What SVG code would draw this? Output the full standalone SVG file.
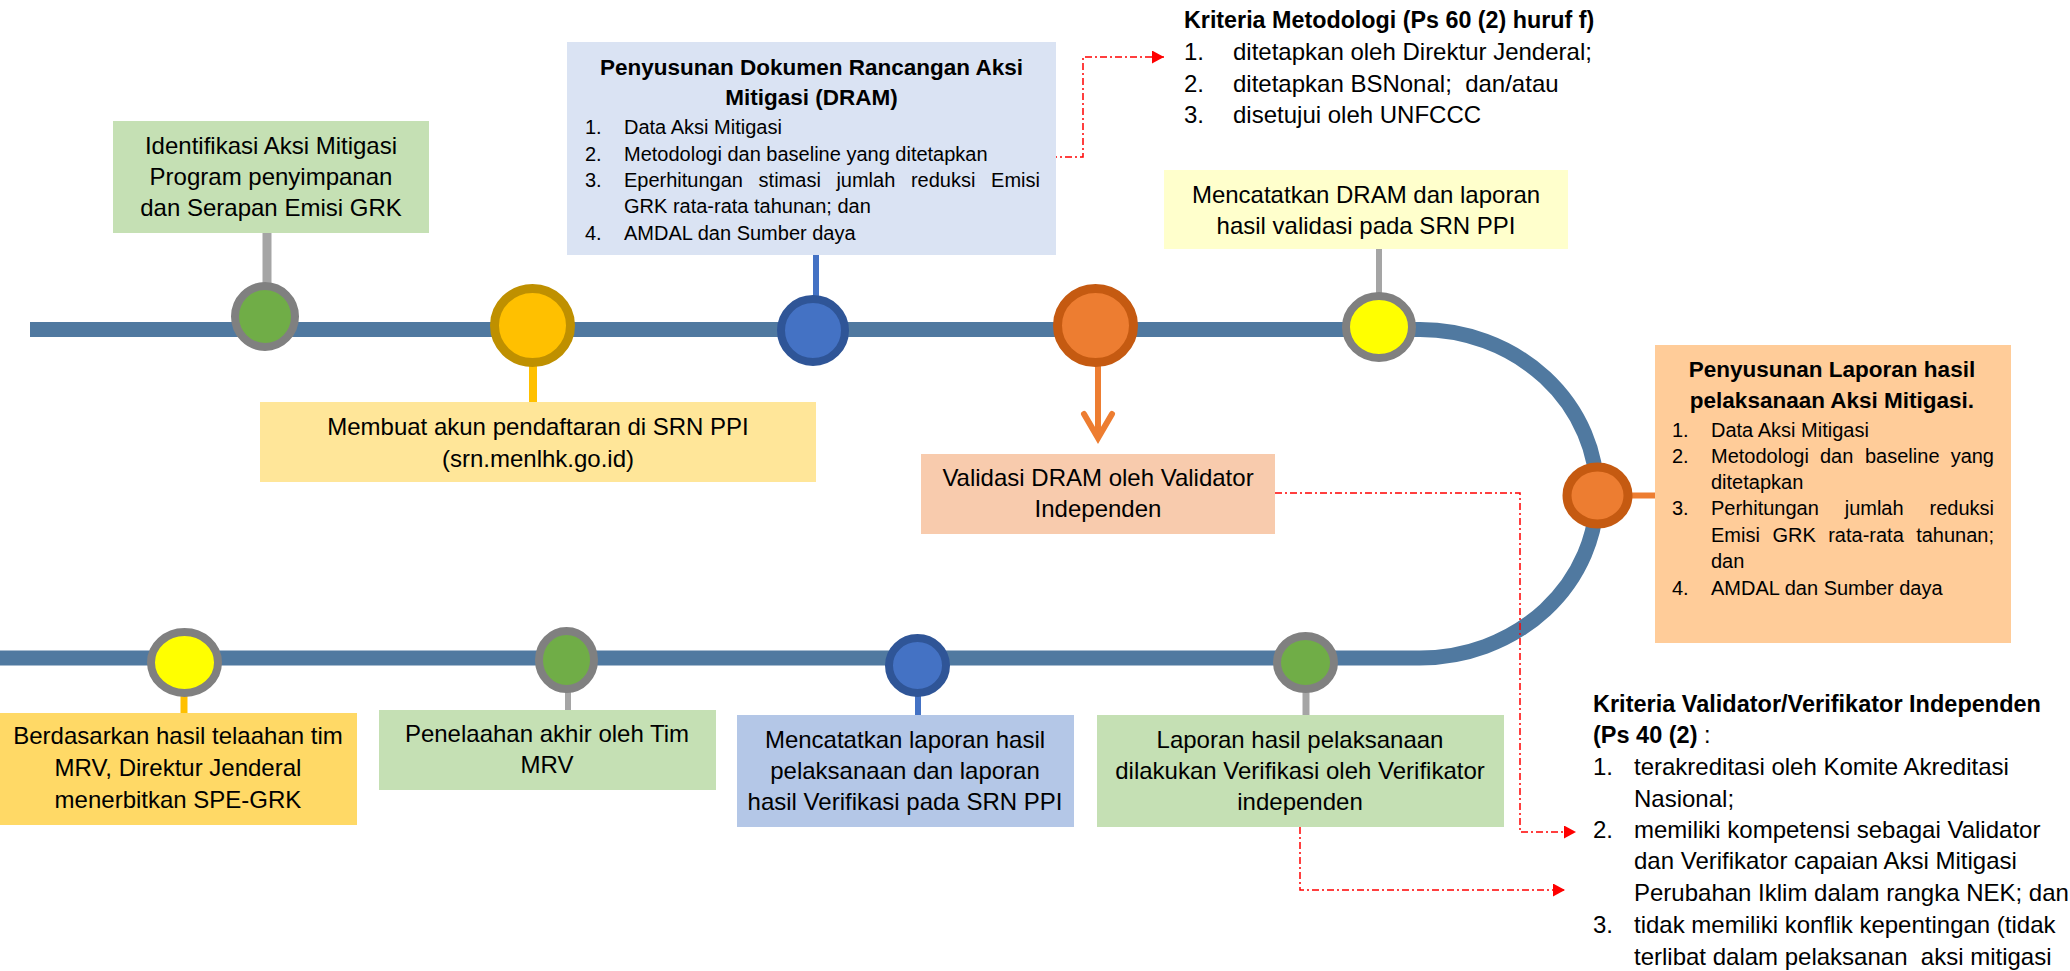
<svg xmlns="http://www.w3.org/2000/svg" width="2070" height="971" viewBox="0 0 2070 971">
<defs>
<style>
text{font-family:"Liberation Sans",Arial,sans-serif;fill:#000}
.t24{font-size:24px}
.t20{font-size:20px}
.c{text-anchor:middle}
.e{text-anchor:end}
.b{font-weight:bold}
.pre{white-space:pre}
.track{fill:none;stroke:#5079A0;stroke-width:15}
.red{fill:none;stroke:#FF0000;stroke-width:1.5;stroke-dasharray:7 3 2 3}
.gray{stroke:#808080;stroke-width:8}
.grn{fill:#70AD47}
.yel{fill:#FFFF00}
.blu{fill:#4472C4;stroke:#2F5597;stroke-width:8}
.org{fill:#ED7D31;stroke:#C55A11;stroke-width:9}
.gold{fill:#FFC000;stroke:#BF9000;stroke-width:9}
</style>
<marker id="ar" markerUnits="userSpaceOnUse" markerWidth="12" markerHeight="13" refX="12" refY="6.5" orient="auto">
<path d="M0,0 L12,6.5 L0,13 z" fill="#FF0000"/>
</marker>
</defs>
<rect width="2070" height="971" fill="#FFFFFF"/>

<g id="connectors">
<path class="track" d="M30 329.5 H1420 A177 164.25 0 0 1 1420 658 H0"/>
<line x1="267" y1="233" x2="267" y2="284" stroke="#A5A5A5" stroke-width="9"/>
<line x1="533" y1="365" x2="533" y2="402" stroke="#FFC000" stroke-width="8"/>
<line x1="816" y1="255" x2="816" y2="297" stroke="#4472C4" stroke-width="6"/>
<line x1="1098" y1="365" x2="1098" y2="438" stroke="#ED7D31" stroke-width="6"/>
<path d="M1084 414 L1098 438 L1112 414" fill="none" stroke="#ED7D31" stroke-width="6" stroke-linecap="round" stroke-linejoin="miter"/>
<line x1="1379" y1="249" x2="1379" y2="294" stroke="#A5A5A5" stroke-width="6"/>
<line x1="1630" y1="495.5" x2="1655" y2="495.5" stroke="#ED7D31" stroke-width="6"/>
<line x1="184" y1="695" x2="184" y2="713" stroke="#FFC000" stroke-width="7"/>
<line x1="568" y1="691" x2="568" y2="710" stroke="#A5A5A5" stroke-width="6"/>
<line x1="918" y1="695" x2="918" y2="715" stroke="#4472C4" stroke-width="6"/>
<line x1="1306" y1="691" x2="1306" y2="715" stroke="#A5A5A5" stroke-width="7"/>
<path class="red" d="M1005 157 H1083 V57 H1164" marker-end="url(#ar)"/>
<path class="red" d="M1275 493 H1520 V832 H1576" marker-end="url(#ar)"/>
<path class="red" d="M1300 827 V890 H1565" marker-end="url(#ar)"/>
</g>

<g id="node-identifikasi">
<rect x="113" y="121" width="316" height="112" fill="#C5E0B4"/>
<text class="t24 c" x="271" y="154">Identifikasi Aksi Mitigasi</text>
<text class="t24 c" x="271" y="185">Program penyimpanan</text>
<text class="t24 c" x="271" y="216">dan Serapan Emisi GRK</text>
</g>
<g id="dot-1"><ellipse class="grn gray" cx="265" cy="316.5" rx="30" ry="30.5"/></g>

<g id="dot-2"><ellipse class="gold" cx="532.5" cy="325.5" rx="38" ry="37"/></g>
<g id="node-akun">
<rect x="260" y="402" width="556" height="80" fill="#FFE699"/>
<text class="t24 c" x="538" y="435">Membuat akun pendaftaran di SRN PPI</text>
<text class="t24 c" x="538" y="467">(srn.menlhk.go.id)</text>
</g>

<g id="node-dram">
<rect x="567" y="42" width="489" height="213" fill="#DAE3F3"/>
<text class="b c" font-size="22.5" x="811.5" y="75">Penyusunan Dokumen Rancangan Aksi</text>
<text class="b c" font-size="22.5" x="811.5" y="105">Mitigasi (DRAM)</text>
<text class="t20" x="585" y="134">1.</text><text class="t20" x="624" y="134">Data Aksi Mitigasi</text>
<text class="t20" x="585" y="161">2.</text><text class="t20" x="624" y="161">Metodologi dan baseline yang ditetapkan</text>
<text class="t20" x="585" y="187">3.</text><text class="t20" x="624" y="187">Eperhitungan</text><text class="t20" x="758.6" y="187">stimasi</text><text class="t20" x="836.4" y="187">jumlah</text><text class="t20" x="910.9" y="187">reduksi</text><text class="t20 e" x="1040" y="187">Emisi</text>
<text class="t20" x="624" y="213">GRK rata-rata tahunan; dan</text>
<text class="t20" x="585" y="240">4.</text><text class="t20" x="624" y="240">AMDAL dan Sumber daya</text>
</g>
<g id="dot-3"><ellipse class="blu" cx="813" cy="330.5" rx="32" ry="31.5"/></g>

<g id="dot-4"><ellipse class="org" cx="1095.5" cy="325.5" rx="38" ry="37"/></g>
<g id="node-validasi">
<rect x="921" y="454" width="354" height="80" fill="#F8CBAD"/>
<text class="t24 c" x="1098" y="486">Validasi DRAM oleh Validator</text>
<text class="t24 c" x="1098" y="517">Independen</text>
</g>

<g id="node-kriteria-metodologi">
<text class="b" font-size="23.3" x="1184" y="28">Kriteria Metodologi (Ps 60 (2) huruf f)</text>
<text class="t24" x="1184" y="60">1.</text><text class="t24" x="1233" y="60">ditetapkan oleh Direktur Jenderal;</text>
<text class="t24" x="1184" y="92">2.</text><text class="t24 pre" x="1233" y="92" xml:space="preserve">ditetapkan BSNonal;  dan/atau</text>
<text class="t24" x="1184" y="123">3.</text><text class="t24" x="1233" y="123">disetujui oleh UNFCCC</text>
</g>

<g id="node-mencatat-dram">
<rect x="1164" y="170" width="404" height="79" fill="#FFFFCC"/>
<text class="t24 c" x="1366" y="203">Mencatatkan DRAM dan laporan</text>
<text class="t24 c" x="1366" y="234">hasil validasi pada SRN PPI</text>
</g>
<g id="dot-5"><ellipse class="yel gray" cx="1379" cy="327" rx="33" ry="31"/></g>

<g id="dot-6"><ellipse class="org" stroke-width="8" cx="1597.5" cy="495.5" rx="30.5" ry="28.5"/></g>
<g id="node-laporan-aksi">
<rect x="1655" y="345" width="356" height="298" fill="#FFCC99"/>
<text class="b c" font-size="22.5" x="1832" y="377">Penyusunan Laporan hasil</text>
<text class="b c" font-size="22.5" x="1832" y="408">pelaksanaan Aksi Mitigasi.</text>
<text class="t20" x="1672" y="437">1.</text><text class="t20" x="1711" y="437">Data Aksi Mitigasi</text>
<text class="t20" x="1672" y="463">2.</text><text class="t20" x="1711" y="463">Metodologi</text><text class="t20" x="1820" y="463">dan</text><text class="t20" x="1865" y="463">baseline</text><text class="t20 e" x="1994" y="463">yang</text>
<text class="t20" x="1711" y="489">ditetapkan</text>
<text class="t20" x="1672" y="515">3.</text><text class="t20" x="1711" y="515">Perhitungan</text><text class="t20" x="1844.7" y="515">jumlah</text><text class="t20 e" x="1994" y="515">reduksi</text>
<text class="t20" x="1711" y="542">Emisi</text><text class="t20" x="1772.4" y="542">GRK</text><text class="t20" x="1828.2" y="542">rata-rata</text><text class="t20 e" x="1994" y="542">tahunan;</text>
<text class="t20" x="1711" y="568">dan</text>
<text class="t20" x="1672" y="595">4.</text><text class="t20" x="1711" y="595">AMDAL dan Sumber daya</text>
</g>

<g id="dot-7"><ellipse class="grn gray" cx="1305.5" cy="662.5" rx="28.5" ry="26.5"/></g>
<g id="node-verifikasi">
<rect x="1097" y="715" width="407" height="112" fill="#C5E0B4"/>
<text class="t24 c" x="1300" y="748">Laporan hasil pelaksanaan</text>
<text class="t24 c" x="1300" y="779">dilakukan Verifikasi oleh Verifikator</text>
<text class="t24 c" x="1300" y="810">independen</text>
</g>

<g id="dot-8"><ellipse class="blu" cx="917.5" cy="665.5" rx="28.5" ry="27.5"/></g>
<g id="node-mencatat-laporan">
<rect x="737" y="715" width="337" height="112" fill="#B4C7E7"/>
<text class="t24 c" x="905" y="748">Mencatatkan laporan hasil</text>
<text class="t24 c" x="905" y="779">pelaksanaan dan laporan</text>
<text class="t24 c" x="905" y="810">hasil Verifikasi pada SRN PPI</text>
</g>

<g id="dot-9"><ellipse class="grn gray" cx="566.5" cy="660" rx="27.5" ry="29"/></g>
<g id="node-penelaahan">
<rect x="379" y="710" width="337" height="80" fill="#C5E0B4"/>
<text class="t24 c" x="547" y="742">Penelaahan akhir oleh Tim</text>
<text class="t24 c" x="547" y="773">MRV</text>
</g>

<g id="dot-10"><ellipse class="yel gray" cx="184.5" cy="662.5" rx="33.5" ry="30.5"/></g>
<g id="node-spe-grk">
<rect x="0" y="713" width="357" height="112" fill="#FFD966"/>
<text class="t24 c" x="178" y="744">Berdasarkan hasil telaahan tim</text>
<text class="t24 c" x="178" y="776">MRV, Direktur Jenderal</text>
<text class="t24 c" x="178" y="808">menerbitkan SPE-GRK</text>
</g>

<g id="node-kriteria-validator">
<text class="b" font-size="23.5" x="1593" y="712">Kriteria Validator/Verifikator Independen</text>
<text font-size="23.5" x="1593" y="743"><tspan class="b">(Ps 40 (2)</tspan> :</text>
<text class="t24" x="1593" y="775">1.</text><text class="t24" x="1634" y="775">terakreditasi oleh Komite Akreditasi</text>
<text class="t24" x="1634" y="807">Nasional;</text>
<text class="t24" x="1593" y="838">2.</text><text class="t24" x="1634" y="838">memiliki kompetensi sebagai Validator</text>
<text class="t24" x="1634" y="869">dan Verifikator capaian Aksi Mitigasi</text>
<text class="t24" x="1634" y="901">Perubahan Iklim dalam rangka NEK; dan</text>
<text class="t24" x="1593" y="933">3.</text><text class="t24" x="1634" y="933">tidak memiliki konflik kepentingan (tidak</text>
<text class="t24 pre" x="1634" y="965" xml:space="preserve">terlibat dalam pelaksanan  aksi mitigasi</text>
</g>
</svg>
